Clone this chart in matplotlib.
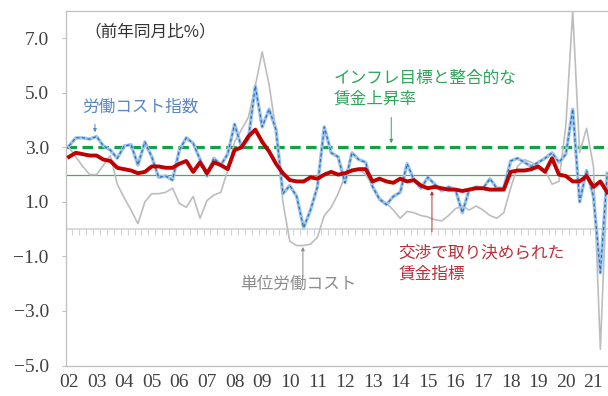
import matplotlib
matplotlib.use("Agg")
import matplotlib.pyplot as plt
import numpy as np

plt.rcParams['font.family'] = ['Noto Sans CJK JP', 'DejaVu Sans']

# 2002Q1 .. 2021Q3, year-on-year %
years = list(range(2002, 2022))

negotiated_wages = [
    2.65, 2.8, 2.75, 2.7, 2.7, 2.55, 2.5, 2.25, 2.2, 2.15,
    2.05, 2.1, 2.3, 2.3, 2.25, 2.25, 2.4, 2.5, 2.1, 2.45,
    2.05, 2.45, 2.35, 2.2, 2.9, 3.0, 3.4, 3.65, 3.2, 2.85,
    2.4, 2.05, 1.8, 1.75, 1.75, 1.9, 1.85, 2.0, 2.1, 2.0,
    2.05, 2.15, 2.2, 2.2, 1.75, 1.85, 1.75, 1.7, 1.85, 1.75,
    1.8, 1.6, 1.5, 1.55, 1.5, 1.45, 1.45, 1.4, 1.45, 1.5,
    1.5, 1.45, 1.45, 1.45, 2.1, 2.15, 2.15, 2.2, 2.3, 2.1,
    2.6, 2.0, 1.95, 1.75, 1.75, 1.95, 1.55, 1.75, 1.35,
]

labour_cost_index = [
    3.05, 3.35, 3.35, 3.3, 3.4, 3.05, 2.9, 2.6, 3.05, 3.1,
    2.35, 3.2, 2.65, 1.9, 1.95, 1.8, 2.9, 3.35, 3.15, 2.55,
    1.95, 2.6, 2.35, 2.75, 3.85, 3.0, 3.3, 5.25, 3.75, 4.4,
    3.65, 1.3, 1.6, 1.2, 0.05, 0.7, 1.55, 3.75, 2.8, 2.65,
    1.7, 2.8, 2.55, 2.45, 1.55, 1.1, 0.9, 1.2, 1.35, 2.4,
    1.8, 1.5, 1.9, 1.65, 1.4, 1.55, 1.45, 0.6, 1.45, 1.55,
    1.5, 1.85, 1.5, 1.5, 2.5, 2.6, 2.45, 2.3, 2.45, 2.6,
    2.8, 2.45, 2.75, 4.4, 1.0, 2.15, 1.2, -1.6, 2.05,
]

unit_labour_cost = [
    3.0, 2.65, 2.3, 2.0, 2.0, 2.35, 2.7, 1.65, 1.15, 0.7,
    0.2, 1.0, 1.3, 1.3, 1.35, 1.5, 0.95, 0.8, 1.2, 0.4,
    1.05, 1.25, 1.35, 2.15, 3.2, 3.65, 4.1, 5.25, 6.5, 5.3,
    3.6, 1.0, -0.45, -0.6, -0.6, -0.55, -0.3, 0.5, 0.8, 1.3,
    1.95, 2.2, 2.2, 2.0, 1.6, 1.15, 0.95, 0.7, 0.4, 0.65,
    0.6, 0.5, 0.45, 0.35, 0.3, 0.5, 0.75, 0.85, 0.7, 0.85,
    0.7, 0.5, 0.4, 0.6, 1.5, 2.3, 2.55, 2.45, 2.3, 2.15,
    1.65, 1.75, 3.8, 8.0, 2.8, 3.7, 2.3, -4.4, 1.95,
]

inflation_consistent = 3.0
reference_level = 2.0

x = np.arange(len(negotiated_wages))

fig = plt.figure(figsize=(6.08, 3.96), dpi=100)
ax = fig.add_axes([65.5 / 608, 1 - 365.5 / 396, 545.2 / 608, 354.5 / 396])

# zero line with small category tick marks hanging below it
ax.axhline(0, color='#D3D3D3', lw=1.2, zorder=1)
ax.vlines(np.arange(-0.5, len(x) + 0.5, 1.0), -0.2, 0, color='#D3D3D3', lw=0.8, zorder=1)

ax.axhline(reference_level, color='#3DAE5C', lw=0.9, zorder=2)
ax.axhline(inflation_consistent, color='#13A046', lw=2.3, ls=(0, (3.3, 1.7)), zorder=2)

ax.plot(x, unit_labour_cost, color='#BDBDBD', lw=1.2, zorder=3)
ax.plot(x, labour_cost_index, color='#9CC3E8', lw=2.4, zorder=4)
ax.plot(x, labour_cost_index, color='#2F6FB8', lw=0.9, ls=(0, (2.5, 2.0)), zorder=5)
ax.plot(x, negotiated_wages, color='#C00000', lw=2.8, zorder=6)

ax.set_xlim(-0.5, len(x) - 0.5)
ax.set_ylim(-5, 8)

ax.set_yticks([-5, -3, -1, 1, 3, 5, 7])
ax.set_yticklabels([f"{v:.1f}".replace('-', '\u2212') for v in [-5, -3, -1, 1, 3, 5, 7]],
                   family='Liberation Serif', fontsize=14, color='#404040')
ax.set_xticks(np.arange(0, len(x), 4))
ax.set_xticklabels([f"{y % 100:02d}" for y in years],
                   family='Liberation Serif', fontsize=14, color='#404040')
ax.tick_params(axis='y', length=3, width=0.8, color='#BFBFBF', pad=9)
ax.tick_params(axis='x', length=0, pad=6)

for side in ['left', 'top', 'bottom', 'right']:
    ax.spines[side].set_color('#BFBFBF')
    ax.spines[side].set_linewidth(0.9)

# annotations
ax.text(2.2, 7.23, '（前年同月比%）', fontsize=12, color='#333333', va='center', ha='left')

ax.text(1.9, 4.48, '労働コスト指数', fontsize=12, color='#5A86C5', va='center', ha='left')
ax.annotate('', xy=(3.77, 3.45), xytext=(3.77, 3.95),
            arrowprops=dict(arrowstyle='-|>', color='#5A86C5', lw=0.7, mutation_scale=5))

ax.text(38.3, 5.14, 'インフレ目標と整合的な\n賃金上昇率', fontsize=12, color='#2EA65A',
        va='center', ha='left', linespacing=1.3)
ax.annotate('', xy=(46.7, 3.05), xytext=(46.7, 4.2),
            arrowprops=dict(arrowstyle='-|>', color='#2EA65A', lw=0.7, mutation_scale=5))

ax.text(47.7, -1.25, '交渉で取り決められた\n賃金指標', fontsize=12, color='#B8323A',
        va='center', ha='left', linespacing=1.3)
ax.annotate('', xy=(52.6, 1.5), xytext=(52.6, -0.2),
            arrowprops=dict(arrowstyle='-|>', color='#B8323A', lw=0.7, mutation_scale=5))

ax.text(24.8, -2.04, '単位労働コスト', fontsize=12, color='#8C8C8C', va='center', ha='left')
ax.annotate('', xy=(33.9, -0.55), xytext=(33.9, -1.85),
            arrowprops=dict(arrowstyle='-|>', color='#8C8C8C', lw=0.7, mutation_scale=5))

fig.savefig('out.png', dpi=100)
